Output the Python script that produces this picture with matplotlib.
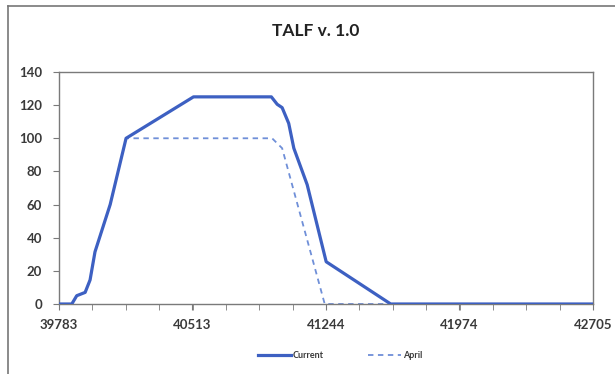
import matplotlib.pyplot as plt
from matplotlib.lines import Line2D
import numpy as np

# Excel serial dates on x, amount on y
current_x = [39783, 39853, 39880, 39926, 39953, 39980, 40063, 40150, 40519,
             40945, 40977, 41004, 41040, 41068, 41141, 41245, 41598, 42705]
current_y = [0, 0, 5, 7, 14.5, 31.5, 60, 100, 125,
             125, 120.5, 118.5, 109, 94, 72, 25.5, 0, 0]

april_x = [39783, 39853, 39880, 39926, 39953, 39980, 40063, 40150,
           40949, 41004, 41237, 42705]
april_y = [0, 0, 5, 7, 14.5, 31.5, 60, 100,
           100, 94, 0, 0]

x_ticks = [39783, 40513, 41244, 41974, 42705]
y_ticks = [0, 20, 40, 60, 80, 100, 120, 140]

plt.rcParams["font.family"] = ["Lato", "DejaVu Sans"]

fig = plt.figure(figsize=(6.15, 3.74), dpi=100)
ax = fig.add_axes([59 / 615, 70 / 374, 534 / 615, 232 / 374])

ax.plot(current_x, current_y, color="#3d60c2", lw=2.3, label="Current",
        solid_joinstyle="round", zorder=3)
ax.plot(april_x, april_y, color="#6f8fd8", lw=1.3, ls=(0, (3, 2.5)),
        label="April", zorder=2)

ax.set_xlim(39783, 42705)
ax.set_ylim(0, 140)
ax.set_xticks(x_ticks)
ax.set_xticks(np.linspace(39783, 42705, 17), minor=True)
ax.set_yticks(y_ticks)

for s in ax.spines.values():
    s.set_color("#7a7a7a")
    s.set_linewidth(1.0)

ax.tick_params(axis="both", which="both", direction="out", length=4,
               color="#7a7a7a", labelcolor="#3a3a3a", labelsize=9.5)
ax.tick_params(axis="x", pad=7)
ax.tick_params(axis="y", pad=8)
for lbl in ax.get_xticklabels() + ax.get_yticklabels():
    lbl.set_fontweight("bold")

fig.text(0.513, 0.918, "TALF v. 1.0", ha="center", va="center",
         fontsize=12.5, fontweight="bold", color="#222222")

leg = fig.legend(loc="center", bbox_to_anchor=(0.553, 0.05), ncol=2,
                 frameon=False, fontsize=6.5, handlelength=3.6,
                 columnspacing=5, handletextpad=0.2)
for t in leg.get_texts():
    t.set_color("#3a3a3a")
    t.set_fontweight("bold")

# outer chart border (left and top edges visible)
fig.add_artist(Line2D([7.5 / 615, 7.5 / 615], [0, 1 - 5.5 / 374],
                      transform=fig.transFigure, color="#777777", lw=1.2))
fig.add_artist(Line2D([7.5 / 615, 1], [1 - 5.5 / 374, 1 - 5.5 / 374],
                      transform=fig.transFigure, color="#777777", lw=1.2))

fig.savefig("out.png", dpi=100)
